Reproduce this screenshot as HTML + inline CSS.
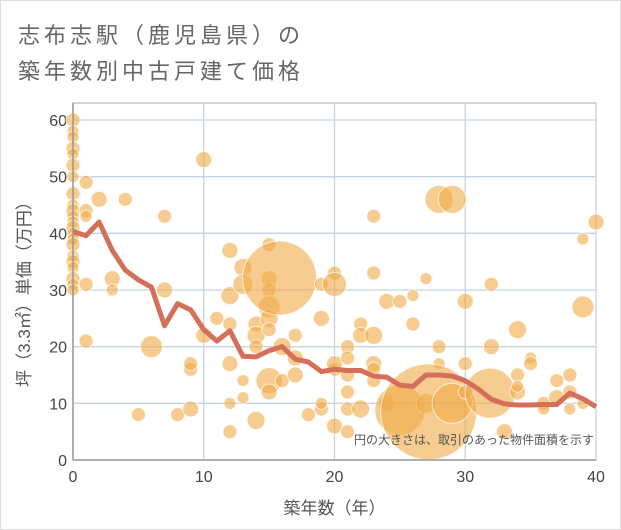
<!DOCTYPE html>
<html><head><meta charset="utf-8"><style>
body{margin:0;background:#fff;}
#wrap{position:relative;width:619px;height:528px;border:1px solid #ddd;background:#fff;font-family:"Liberation Sans","Noto Sans CJK JP",sans-serif;overflow:hidden}
.t{position:absolute;left:17px;font-size:22px;color:#666;letter-spacing:4px;white-space:nowrap}
</style></head><body>
<div id="wrap">
<div class="t" style="top:17px">志布志駅（鹿児島県）の</div>
<div class="t" style="top:53px">築年数別中古戸建て価格</div>
<svg id="chart" width="621" height="530" style="position:absolute;left:-1px;top:-1px"></svg>
</div>
<script>
const xTicks=[0,10,20,30,40];
const yTicks=[0,10,20,30,40,50,60];
const lineYears=[0,1,2,3,4,5,6,7,8,9,10,11,12,13,14,15,16,17,18,19,20,21,22,23,24,25,26,27,28,29,30,31,32,33,34,35,36,37,38,39,40];
const linePrices=[40.3,39.6,42,37,33.5,31.8,30.5,23.7,27.6,26.5,23,21,22.8,18.3,18.2,19.3,20,17.8,17.3,15.6,16,15.8,15.8,14.8,14.6,13.2,13,15,15,14.8,14,12.5,10.7,9.9,9.7,9.7,9.8,9.8,11.8,10.8,9.4];
const bubbleX=[0,0,0,0,0,0,0,0,0,0,0,0,0,0,0,0,0,0,0,0,0,0,1,1,1,2,1,1,3,3,4,6,7,7,5,8,9,9,9,10,10,11,12,12,12,12,12,12,13,13,13,13,14,14,14,14,15,15,15,15,15,15,15,15,15.8,16,16,17,17,18,17,19,19,20,20,19,19,20,20,20,21,21,22,22,22,21,21,21,21,23,23,23,23,23,23,24,24,25,25,26,26,27,27,28,29,28,28,27.2,29,30,30,30,32,32,31.9,33,34,34,34,34,35,35,36,36,37,37,38,38,38,39,39,40,39];
const bubbleY=[60,58,57,55,54,52,50,47,45,44,43,42,41,40,39,38,36,35,34,32,31,30,49,44,43,46,31,21,32,30,46,20,43,30,8,8,9,16,17,53,22,25,37,29,24,17,10,5,34,31,14,11,24,22,20,7,38,32,30,27,25,23,14,12,32.1,20,14,15,22,8,18,25,31,33,31,9,10,16,17,6,15,9,9,24,22,20,18,12,5,43,33,22,17,16,14,28,10,28,8.8,29,24,32,10,46,46,20,17,8.5,10,28,17,12,31,20,11.8,5,23,12,15,13,18,17,10,9,14,11,15,12,9,27,39,42,10];
const bubbleR=[7,6,6,7,6,7,6,7,6,7,6,6,7,6,6,7,6,7,6,7,6,6,7,7,6,8,7,7,8,6,7,11,7,8,7,7,8,7,7,8,8,7,8,9,7,8,6,7,9,10,6,6,8,9,7,9,7,8,7,11,9,7,13,8,37,9,7,8,7,7,8,8,7,7,12,7,6,7,8,8,7,7,9,7,8,7,7,7,7,7,7,9,8,7,7,8,8,7,25,6,7,6,10,14,14,7,6,48,20,8,7,7,7,8,25,8,9,8,7,6,6,7,7,6,7,8,7,7,6,11,6,8,6];
const NS='http://www.w3.org/2000/svg';
const svg=document.getElementById('chart');
const L=73,R=596,B=460,T=103;
const xs=v=>L+v/40*(R-L);
const ys=v=>B-v/60*(460-120);
function mk(tag,attrs){const e=document.createElementNS(NS,tag);for(const k in attrs)e.setAttribute(k,attrs[k]);svg.appendChild(e);return e;}
const frame=mk('rect',{x:L,y:T,width:R-L,height:B-T,fill:'#fff',stroke:'#aaa','stroke-width':1});


yTicks.forEach(v=>{
 const g=mk('line',{x1:L,x2:R,y1:ys(v),y2:ys(v),stroke:'#c5d3e0','stroke-width':1.3});
 
 
 const t=mk('text',{x:L-6,y:ys(v)+6,'text-anchor':'end','font-size':16,fill:'#444'});
 t.textContent=v;
 
 
});
xTicks.forEach(v=>{
 const g=mk('line',{x1:xs(v),x2:xs(v),y1:T,y2:B,stroke:'#c5d3e0','stroke-width':1.3});
 
 
 const t=mk('text',{x:xs(v),y:B+22,'text-anchor':'middle','font-size':16,fill:'#444'});
 t.textContent=v;
 
 
});
bubbleX.forEach((x,i)=>{
 const c=mk('circle',{cx:xs(x),cy:ys(bubbleY[i]),r:bubbleR[i],fill:'rgba(240,170,70,0.6)',stroke:'rgba(255,255,255,0.7)','stroke-width':1});
 
 
});
const p=mk('polyline',{points:lineYears.map((x,i)=>xs(x)+','+ys(linePrices[i])).join(' '),fill:'none',stroke:'#d4705a','stroke-width':5,'stroke-linejoin':'round'});


const ax=mk('line',{x1:L,x2:L,y1:T,y2:B,stroke:'#999','stroke-width':1.5});


const bx=mk('line',{x1:L,x2:R,y1:B,y2:B,stroke:'#999','stroke-width':1.5});


const note=mk('text',{x:594,y:444,'text-anchor':'end','font-size':12,fill:'#555'});
note.textContent='円の大きさは、取引のあった物件面積を示す';


const xt=mk('text',{x:(L+R)/2,y:514,'text-anchor':'middle','font-size':17,fill:'#555'});
xt.textContent='築年数（年）';


const yt=mk('text',{x:0,y:0,'text-anchor':'middle','font-size':17,fill:'#555',transform:'translate(30,290) rotate(-90)'});
yt.textContent='坪（3.3㎡）単価（万円）';


</script>
</body></html>
